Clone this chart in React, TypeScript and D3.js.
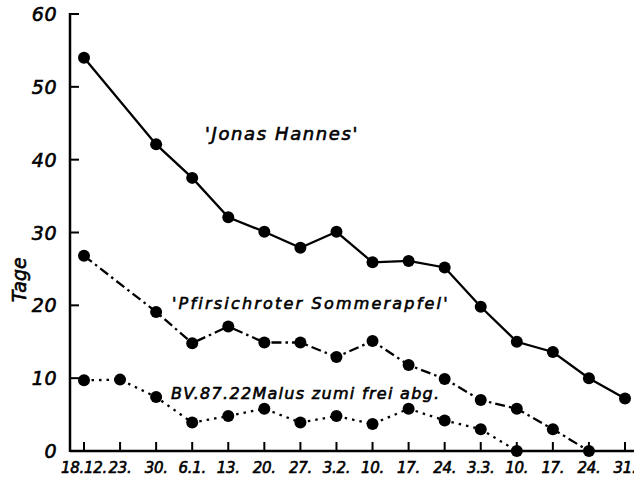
import React from "react";
import * as d3 from "d3";

const categories = ["18.12.", "23.", "30.", "6.1.", "13.", "20.", "27.", "3.2.", "10.", "17.", "24.", "3.3.", "10.", "17.", "24.", "31."];
const jonas: (number | null)[] = [54, null, 42.1, 37.5, 32.1, 30.1, 27.9, 30.1, 25.9, 26.1, 25.2, 19.8, 15.0, 13.6, 10.0, 7.2];
const pfirsich: (number | null)[] = [26.8, null, 19.1, 14.8, 17.1, 14.9, 14.9, 12.9, 15.1, 11.8, 9.9, 7.0, 5.8, 3.0, 0, null];
const malus: (number | null)[] = [9.7, 9.8, 7.4, 3.9, 4.8, 5.8, 3.9, 4.8, 3.7, 5.8, 4.2, 3.0, 0, null, null, null];
const yTicks = [0, 10, 20, 30, 40, 50, 60];

const W = 634, H = 478;
const font = "'DejaVu Sans', sans-serif";

export default function App() {
  const x = d3.scaleLinear().domain([0, categories.length - 1]).range([84, 625]);
  const y = d3.scaleLinear().domain([0, 60]).range([451, 14]);
  const axisX = 70;

  const series = [
    { data: jonas, dash: undefined as string | undefined },
    { data: pfirsich, dash: "10 4 2.5 4" },
    { data: malus, dash: "2.5 5" },
  ];

  const mk = (data: (number | null)[]) => {
    const pts = data.map((v, i) => (v == null ? null : [x(i), y(v)] as [number, number])).filter(Boolean) as [number, number][];
    return d3.line()(pts) || "";
  };

  const txt = { fontFamily: font, fontStyle: "italic", fill: "#000", stroke: "#000", strokeWidth: 0.6 } as const;

  return (
    <svg width={W} height={H} style={{ position: "absolute", left: 0, top: 0, background: "#fff" }}>
      <rect x={0} y={0} width={W} height={H} fill="#fff" />
      <line x1={axisX} x2={axisX} y1={y(60) - 1} y2={y(0) + 1} stroke="#000" strokeWidth={2.5} />
      <line x1={axisX} x2={W} y1={y(0)} y2={y(0)} stroke="#000" strokeWidth={2.5} />
      {yTicks.map((t) => (
        <g key={t}>
          <line x1={axisX} x2={axisX + 9} y1={y(t)} y2={y(t)} stroke="#000" strokeWidth={2} />
          <text x={57} y={y(t) + 7} textAnchor="end" fontSize={19} letterSpacing={0.5} {...txt}>{t}</text>
        </g>
      ))}
      {categories.map((c, i) => (
        <g key={i}>
          <line x1={x(i)} x2={x(i)} y1={y(0)} y2={y(0) - 9} stroke="#000" strokeWidth={2} />
          <text x={x(i)} y={473} textAnchor="middle" fontSize={15} letterSpacing={-0.3} {...txt}>{c}</text>
        </g>
      ))}
      <text transform={`translate(26,${y(23.5)}) rotate(-90)`} textAnchor="middle" fontSize={19} {...txt}>Tage</text>

      {series.map((s, k) => (
        <g key={k}>
          <path d={mk(s.data)} fill="none" stroke="#000" strokeWidth={2.3} strokeDasharray={s.dash} />
          {s.data.map((v, i) => v == null ? null : (
            <circle key={i} cx={x(i)} cy={y(v)} r={6} fill="#000" />
          ))}
        </g>
      ))}

      <text x={205} y={140} fontSize={18} letterSpacing={1.6} {...txt}>'Jonas Hannes'</text>
      <text x={172} y={309} fontSize={16} letterSpacing={2.2} {...txt}>'Pfirsichroter  Sommerapfel'</text>
      <text x={171} y={399} fontSize={16} letterSpacing={1.3} {...txt}>BV.87.22Malus zumi frei abg.</text>
    </svg>
  );
}
